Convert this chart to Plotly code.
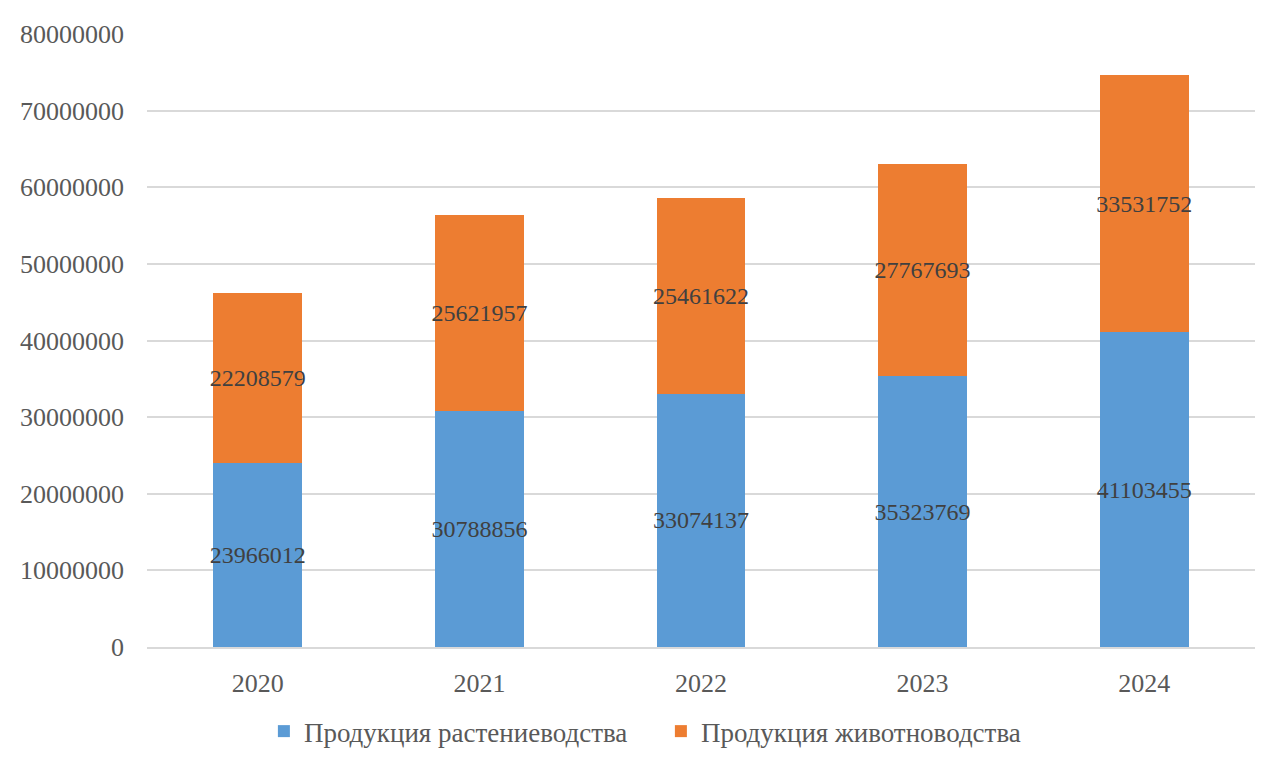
import plotly.graph_objects as go

years = ["2020", "2021", "2022", "2023", "2024"]
crop = [23966012, 30788856, 33074137, 35323769, 41103455]
livestock = [22208579, 25621957, 25461622, 27767693, 33531752]
series_names = ["Продукция растениеводства", "Продукция животноводства"]
y_ticks = [0, 10000000, 20000000, 30000000, 40000000, 50000000, 60000000, 70000000, 80000000]

FONT = "Liberation Serif, Times New Roman, serif"
fig = go.Figure()
fig.add_trace(go.Bar(
    x=years, y=crop, name=series_names[0], marker_color="#5B9BD5",
    marker_line_width=0, constraintext="none",
    text=[str(v) for v in crop], textposition="inside", insidetextanchor="middle",
    textfont=dict(family=FONT, size=24, color="#404040"), textangle=0,
))
fig.add_trace(go.Bar(
    x=years, y=livestock, name=series_names[1], marker_color="#ED7D31",
    marker_line_width=0, constraintext="none",
    text=[str(v) for v in livestock], textposition="inside", insidetextanchor="middle",
    textfont=dict(family=FONT, size=24, color="#404040"), textangle=0,
))
fig.update_layout(
    barmode="stack", bargap=0.6,
    width=1278, height=763,
    margin=dict(l=139, r=31, t=21, b=124),
    paper_bgcolor="white", plot_bgcolor="white",
    font=dict(family=FONT, size=26, color="#595959"),
    uniformtext=dict(mode=False),
    legend=dict(orientation="h", x=0.1055, xanchor="left", y=-0.098, yanchor="top",
                font=dict(family=FONT, size=27, color="#595959"),
                entrywidth=352, entrywidthmode="pixels",
                traceorder="normal"),
    showlegend=True,
)
fig.update_yaxes(range=[0, 80000000], tickvals=y_ticks, ticktext=[str(v) for v in y_ticks],
                 showgrid=True, gridcolor="#D9D9D9", gridwidth=1.5, zeroline=False,
                 showline=False, ticks="", ticklabelstandoff=22)
fig.update_xaxes(showline=True, linecolor="#D9D9D9", linewidth=1.5, ticks="",
                 ticklabelstandoff=12)
fig.write_html("out.html")
